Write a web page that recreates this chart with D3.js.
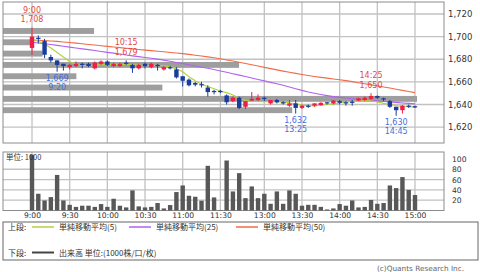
<!DOCTYPE html>
<html>
<head>
<meta charset="utf-8">
<title>intraday 5min chart</title>
<script src="https://cdn.jsdelivr.net/npm/d3@7"></script>
<style>
  body { margin: 0; background: #fff; }
  svg text { font-family: "DejaVu Sans", sans-serif; }
  svg .jp { font-family: "Noto Sans CJK JP", sans-serif; }
</style>
</head>
<body>
<svg id="chart" width="480" height="272"></svg>
<script>
// 5-minute bars, morning + afternoon session
var times = ["9:00","9:05","9:10","9:15","9:20","9:25","9:30","9:35","9:40","9:45","9:50","9:55",
  "10:00","10:05","10:10","10:15","10:20","10:25","10:30","10:35","10:40","10:45","10:50","10:55",
  "11:00","11:05","11:10","11:15","11:20","11:25","11:30",
  "12:30","12:35","12:40","12:45","12:50","12:55","13:00","13:05","13:10","13:15","13:20","13:25",
  "13:30","13:35","13:40","13:45","13:50","13:55","14:00","14:05","14:10","14:15","14:20","14:25",
  "14:30","14:35","14:40","14:45","14:50","14:55","15:00"];

var opens  = [1690,1699,1696,1682,1679,1676,1673,1674,1676,1676,1672,1676,1678,1674,1674,1677,1675,1672,1676,1673,1675,1671,1673,1671,1665,1662,1659,1658,1655,1652,1652,
  1648,1643,1646,1638,1643.5,1644,1646,1641,1644,1642,1639,1641,1637,1639,1639,1639.5,1642,1641,1643,1642,1642.5,1643.5,1644,1645,1647.5,1645.5,1643,1638,1635,1639,1638.5];
var highs  = [1708,1701,1698,1684,1679,1676,1676,1678,1677,1677,1678,1679,1679,1677,1677,1679,1676,1676,1677,1677,1676,1674,1674,1673,1665,1663,1660,1660,1657,1653,1653,
  1649,1647,1647,1643,1651,1649,1647,1644,1645,1643,1644,1644,1640,1640,1641,1642,1642,1644,1644,1643,1644,1646,1647,1650,1648,1646,1644,1638,1639.5,1640,1639];
var lows   = [1684,1694,1681,1677,1669,1670,1671,1673,1672,1673,1671,1675,1674,1673,1673,1675,1668,1671,1672,1672,1670,1670,1671,1663,1656,1656,1656,1655,1647,1649,1650,
  1640,1642,1636,1636,1643,1643,1643,1640,1641,1640,1638,1632,1636,1637,1638,1639,1640,1640,1640,1639,1639,1643,1643,1644,1645,1643,1637,1630,1632,1637,1637];
var closes = [1700,1698,1684,1679,1675,1674,1675,1676,1675,1674,1677,1678,1675,1676,1676,1676,1672,1675,1674,1676,1674,1673,1672,1664,1661,1657,1657.5,1657,1651,1651,1651,
  1642,1646,1637,1643,1645,1646,1645,1644,1642,1641,1641,1637,1639,1638,1641,1641.5,1641,1643.5,1641.5,1641,1641.5,1645.5,1646,1647.5,1646,1644.5,1638,1635,1639,1638,1637.5];

// volume (1000 shares)
var volumes = [108,32.5,19.5,26,69,19.5,11,7,9.3,9.3,7,12.5,7,22.8,9.3,6,39,8,6,7,14.5,4,10.6,35.8,48.6,28.6,26.7,19,86.7,25.4,1,
  97,37,72.5,24,46.7,24,32.5,13,37,13,39,32.5,9.3,11,11,7,2,4,12.5,9.3,19.5,6,7,20.5,13,14.5,48.6,43.5,64.8,40,30];

// simple moving averages
var ma5  = [1697,1696,1693.5,1690,1686,1682,1678,1675.5,1674.5,1674.5,1674.8,1675.2,1675.5,1675.5,1675.5,1675.6,1675.2,1674.8,1674.5,1674.6,1674.5,1674.2,1673.5,1671.5,1669,1664.5,1661,1658,1656,1654,1652,
  1650.5,1648.5,1645.5,1643.5,1643,1642.8,1642.6,1642.5,1642.5,1642,1641.5,1640.5,1639.5,1639,1638.8,1639.3,1640,1640.6,1641.4,1642.2,1642.8,1643.2,1643.5,1643.3,1642.2,1641,1640,1639,1638.3,1638,1637.7];
var ma25 = [1695,1694.4,1693.7,1693,1692.3,1691.5,1690.7,1690,1689.2,1688.5,1687.7,1686.9,1686.1,1685.4,1684.6,1683.8,1683,1682.3,1681.6,1680.9,1680.1,1679.2,1678.2,1677.2,1676.2,1675.2,1674.1,1673,1672,1670.9,1669.7,
  1668.5,1667.2,1666,1664.7,1663.4,1662.1,1660.9,1659.6,1658.3,1657,1655.5,1654,1652.5,1651,1649.9,1648.9,1647.9,1647,1646.3,1645.7,1645.1,1644.6,1644.1,1643.7,1643.2,1642.7,1642.3,1641.9,1641.4,1641,1640.6];
var ma50 = [1697,1696.8,1696.5,1696.2,1695.8,1695.3,1694.8,1694.3,1693.7,1693.1,1692.6,1692,1691.4,1690.8,1690.3,1689.7,1689.2,1688.6,1688.1,1687.6,1687.1,1686.6,1686,1685.5,1685,1684.3,1683.6,1682.9,1682.1,1681.3,1680.4,
  1679.4,1678.4,1677.3,1676.2,1675.1,1674,1672.8,1671.7,1670.6,1669.5,1668.5,1667.5,1666.5,1665.6,1664.8,1664,1663.3,1662.6,1661.9,1661.1,1660.2,1659.3,1658.3,1657.4,1656.5,1655.5,1654.6,1653.5,1652.5,1651.5,1650.5];

// volume by price (10 yen bands)
var bandPrices = [1705,1695,1685,1675,1665,1655,1645,1635];
var bandVols   = [108,34,47,280,87,189,491,343];

var tickTimes  = ["9:00","9:30","10:00","10:30","11:00","11:30","13:00","13:30","14:00","14:30","15:00"];
var priceTicks = [1620,1640,1660,1680,1700,1720];
var volTicks   = [20,40,60,80];
var volLabels  = [20,40,60,80,100];

var highMarks = [{t:"9:00", p:1708}, {t:"10:15", p:1679}, {t:"14:25", p:1650}];
var lowMarks  = [{t:"9:20", p:1669}, {t:"13:25", p:1632}, {t:"14:45", p:1630}];

var C_UP = "#f01e46", C_DN = "#1a3c9c", GRID = "#c2c2c2", FRAME = "#8c8c8c";
var C_MA5 = "#b4d23c", C_MA25 = "#b062ee", C_MA50 = "#f26a48";

var svg = d3.select("#chart");
var L = 3, R = 444, T = 2, B = 143, VT = 152, VB = 210.5;

var x = d3.scalePoint().domain(times).range([L, R]).padding(4.62);
var y = d3.scaleLinear().domain([1606, 1730.6]).range([B, T]);
var yv = d3.scaleLinear().domain([0, 113.5]).range([VB, VT]);
var xb = d3.scaleLinear().domain([0, d3.max(bandVols)]).range([L, 417]);

// gridlines
var g = svg.append("g");
g.selectAll(".hp").data(priceTicks).join("line")
  .attr("x1", L).attr("x2", R).attr("y1", d => y(d)).attr("y2", d => y(d))
  .attr("stroke", GRID).attr("stroke-width", 1.3);
g.selectAll(".hv").data(volTicks).join("line")
  .attr("x1", L).attr("x2", R).attr("y1", d => yv(d)).attr("y2", d => yv(d))
  .attr("stroke", GRID).attr("stroke-width", 1.3);
g.selectAll(".vp").data(tickTimes).join("line")
  .attr("x1", d => x(d)).attr("x2", d => x(d)).attr("y1", T).attr("y2", B)
  .attr("stroke", GRID).attr("stroke-width", 1.3);
g.selectAll(".vv").data(tickTimes).join("line")
  .attr("x1", d => x(d)).attr("x2", d => x(d)).attr("y1", VT).attr("y2", VB)
  .attr("stroke", GRID).attr("stroke-width", 1.3);

// volume by price bars
svg.append("g").selectAll("rect").data(bandPrices).join("rect")
  .attr("x", L).attr("y", d => y(d + 2.6))
  .attr("width", (d, i) => xb(bandVols[i]) - L)
  .attr("height", d => y(d - 2.6) - y(d + 2.6))
  .attr("fill", "#9e9e9e");

// frames
svg.append("rect").attr("x", L).attr("y", T).attr("width", R - L).attr("height", B - T)
  .attr("fill", "none").attr("stroke", FRAME);
svg.append("rect").attr("x", L).attr("y", VT).attr("width", R - L).attr("height", VB - VT)
  .attr("fill", "none").attr("stroke", FRAME);

// moving averages
function maLine(vals) {
  return d3.line().x((d, i) => x(times[i])).y(d => y(d))(vals);
}
[[ma50, C_MA50], [ma25, C_MA25], [ma5, C_MA5]].forEach(function (m) {
  svg.append("path").attr("d", maLine(m[0])).attr("fill", "none")
    .attr("stroke", m[1]).attr("stroke-width", 1.1);
});

// candles
var cg = svg.append("g");
times.forEach(function (t, i) {
  var up = closes[i] >= opens[i], col = up ? C_UP : C_DN;
  var cx = x(t);
  cg.append("line").attr("x1", cx).attr("x2", cx)
    .attr("y1", y(highs[i])).attr("y2", y(lows[i]))
    .attr("stroke", col).attr("stroke-width", 1);
  var top = y(Math.max(opens[i], closes[i])), bot = y(Math.min(opens[i], closes[i]));
  cg.append("rect").attr("x", cx - 2.2).attr("width", 4.4)
    .attr("y", top).attr("height", Math.max(1.2, bot - top))
    .attr("fill", col);
});

// volume bars
svg.append("g").selectAll("rect").data(volumes).join("rect")
  .attr("x", (d, i) => x(times[i]) - 2.2).attr("width", 4.4)
  .attr("y", d => yv(d)).attr("height", d => VB - yv(d))
  .attr("fill", "#585858");

// axes
var ay = svg.append("g").attr("transform", "translate(" + R + ",0)")
  .call(d3.axisRight(y).tickValues(priceTicks).tickSize(0).tickPadding(4).tickFormat(d3.format(",")));
var av = svg.append("g").attr("transform", "translate(" + R + ",0)")
  .call(d3.axisRight(yv).tickValues(volLabels).tickSize(0).tickPadding(8));
var ax = svg.append("g").attr("transform", "translate(0," + VB + ")")
  .call(d3.axisBottom(x).tickValues(tickTimes).tickSize(0).tickPadding(2));
[ay, av, ax].forEach(function (a) {
  a.select(".domain").remove();
  a.selectAll("text").attr("font-family", "DejaVu Sans").attr("font-size", 8).attr("fill", "#333");
});
ay.selectAll("text").attr("font-size", 8.5);
av.selectAll("text").attr("font-size", 7.6);
ax.selectAll("text").attr("font-size", 7.6);

// high / low annotations
var an = svg.append("g").attr("font-size", 8).attr("text-anchor", "middle");
highMarks.forEach(function (m) {
  an.append("text").attr("x", x(m.t)).attr("y", y(m.p) - 15).attr("fill", "#e04a4a").text(m.t);
  an.append("text").attr("x", x(m.t)).attr("y", y(m.p) - 5.5).attr("fill", "#e04a4a").text(d3.format(",")(m.p));
});
lowMarks.forEach(function (m) {
  an.append("text").attr("x", x(m.t)).attr("y", y(m.p) + 9).attr("fill", "#4470e0").text(d3.format(",")(m.p));
  an.append("text").attr("x", x(m.t)).attr("y", y(m.p) + 18.5).attr("fill", "#4470e0").text(m.t);
});

svg.append("text").attr("class", "jp").attr("x", 6).attr("y", 160)
  .attr("font-size", 7.5).attr("fill", "#333").text("単位: 1000");

// legend
var lg = svg.append("g");
lg.append("rect").attr("x", L).attr("y", 222).attr("width", 475).attr("height", 38)
  .attr("fill", "none").attr("stroke", "#666");
var legendItems = [
  {x: 32, yy: 227, col: C_MA5, w: 1.5, label: "単純移動平均(5)"},
  {x: 129, yy: 227, col: C_MA25, w: 1.5, label: "単純移動平均(25)"},
  {x: 236, yy: 227, col: C_MA50, w: 1.5, label: "単純移動平均(50)"},
  {x: 32, yy: 252.5, col: "#444", w: 2, label: "出来高 単位:(1000株/口/枚)"}
];
legendItems.forEach(function (d) {
  lg.append("line").attr("x1", d.x).attr("x2", d.x + 22).attr("y1", d.yy).attr("y2", d.yy)
    .attr("stroke", d.col).attr("stroke-width", d.w);
  lg.append("text").attr("class", "jp").attr("x", d.x + 27).attr("y", d.yy + 3)
    .attr("font-size", 8).attr("fill", "#333").text(d.label);
});
lg.append("text").attr("class", "jp").attr("x", 8).attr("y", 230).attr("font-size", 8).attr("fill", "#333").text("上段:");
lg.append("text").attr("class", "jp").attr("x", 8).attr("y", 255.5).attr("font-size", 8).attr("fill", "#333").text("下段:");

svg.append("text").attr("x", 377).attr("y", 271).attr("font-size", 7.3).attr("fill", "#666")
  .text("(c)Quants Research Inc.");
</script>
</body>
</html>
